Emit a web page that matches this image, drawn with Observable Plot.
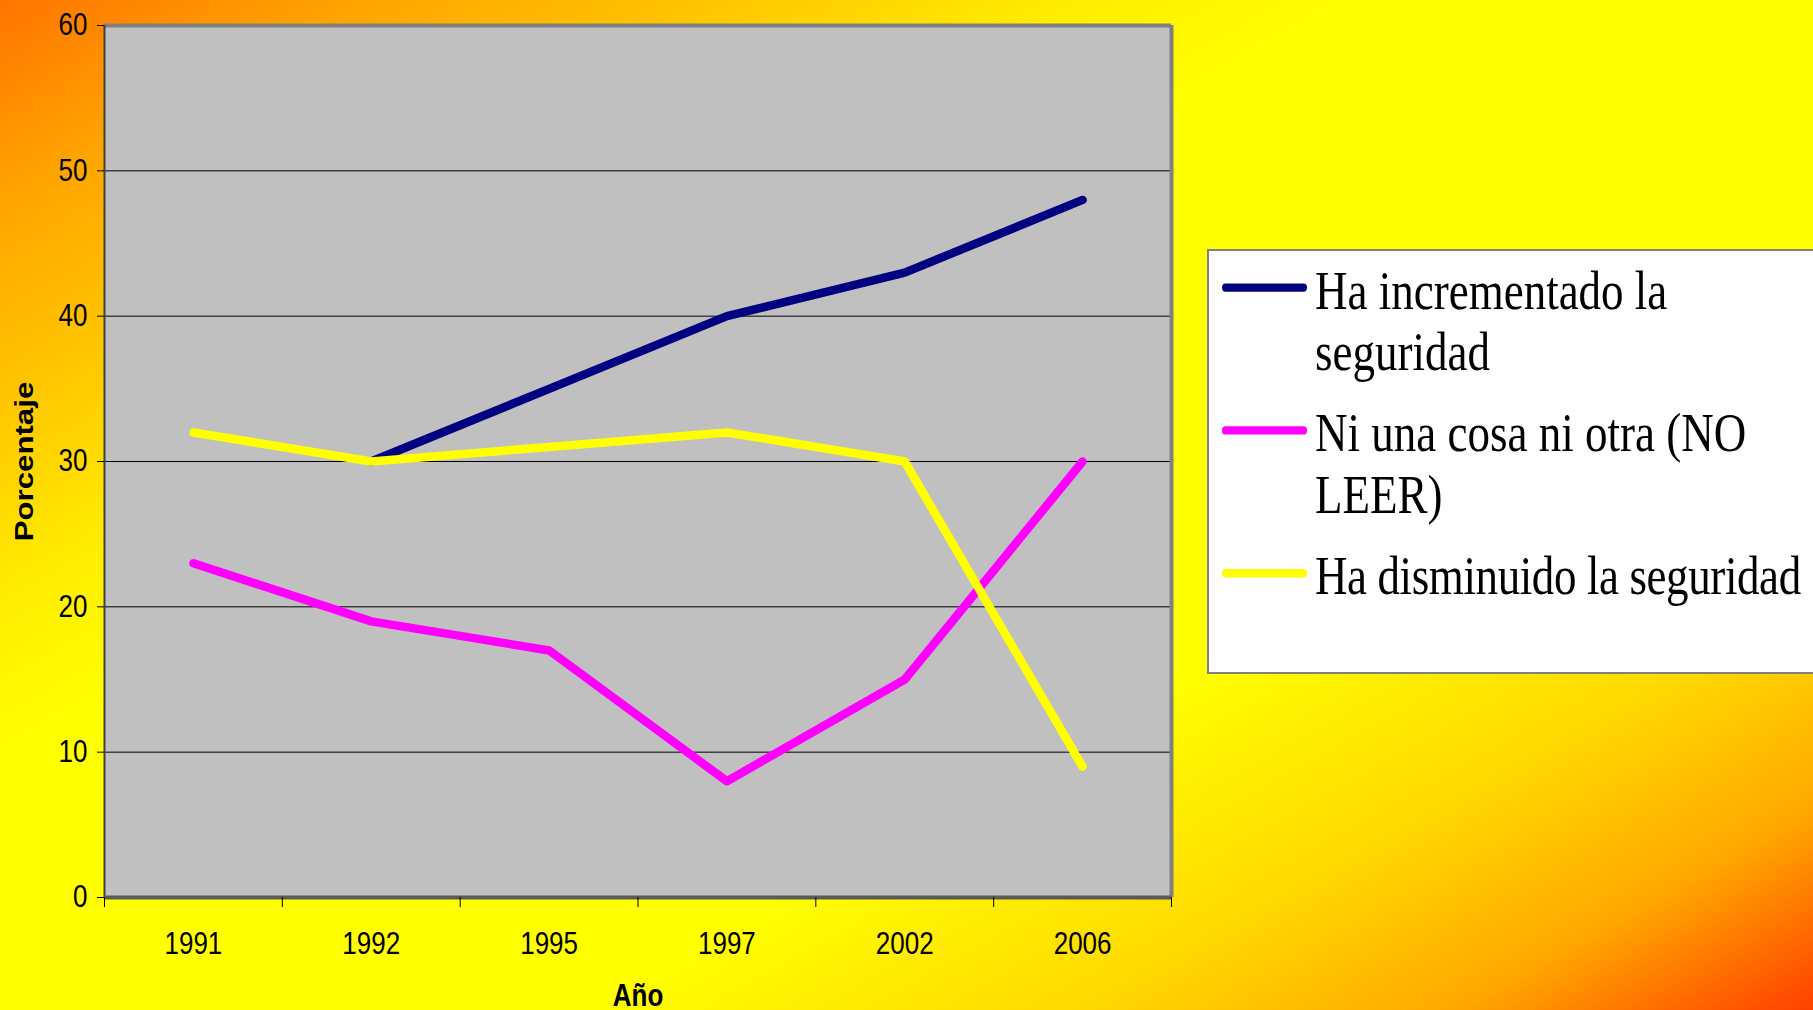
<!DOCTYPE html>
<html><head><meta charset="utf-8">
<script src="https://cdn.jsdelivr.net/npm/d3@7"></script>
<script src="https://cdn.jsdelivr.net/npm/@observablehq/plot@0.6"></script>
<style>
html,body{margin:0;padding:0;width:1813px;height:1010px;overflow:hidden;}
body{position:relative;background:linear-gradient(to bottom right,#ff7400 0%,#ffa400 10%,#ffc600 20%,#ffee00 30%,#ffff00 38%,#ffff00 66%,#ffd800 80%,#ffa800 90%,#ff4000 100%);font-family:"Liberation Sans",Arial,sans-serif;}
#chart{position:absolute;left:0;top:0;}
#legend{position:absolute;left:1207px;top:249px;width:700px;height:425px;background:#fff;border:2px solid #808080;box-sizing:border-box;overflow:hidden;}
#legend .inner{transform:scaleY(1.2);transform-origin:0 0;padding-top:8px;display:flex;flex-direction:column;gap:17px;}
#legend .entry{display:flex;align-items:flex-start;}
#legend .sw{width:85px;height:7px;border-radius:4px;margin-left:13px;margin-right:8px;margin-top:19px;flex:none;}
#legend .tx{font-family:"Liberation Serif","Times New Roman",serif;font-size:45px;line-height:51px;width:455px;color:#000;}
</style>
</head><body>
<div id="chart"></div>
<div id="legend"><div class="inner"></div></div>
<script>
const years = ["1991","1992","1995","1997","2002","2006"];
const seriesNames = ["Ha incrementado la seguridad","Ni una cosa ni otra (NO LEER)","Ha disminuido la seguridad"];
const seriesColors = ["#000080","#ff00ff","#ffff00"];
const incrementado = [null,30,35,40,43,48];
const niUnaNiOtra = [23,19,17,8,15,30];
const disminuido = [32,30,31,32,30,9];
const yTicks = [0,10,20,30,40,50,60];
const yLabel = "Porcentaje";
const xLabel = "Año";

const seriesValues = [incrementado, niUnaNiOtra, disminuido];
const rows = [];
seriesValues.forEach((vals, s) => vals.forEach((v, i) => {
  if (v != null) rows.push({series: seriesNames[s], i, value: v});
}));

const n = years.length;
const plot = Plot.plot({
  width: 1813, height: 1010,
  marginLeft: 104, marginRight: 642, marginTop: 25, marginBottom: 113,
  style: {background: "transparent", fontFamily: '"Liberation Sans", Arial, sans-serif', fontSize: "26px", color: "#000", overflow: "visible"},
  x: {domain: [-0.5, n - 0.5]},
  y: {domain: [0, 60]},
  color: {domain: seriesNames, range: seriesColors},
  marks: [
    Plot.frame({fill: "#c0c0c0"}),
    Plot.gridY(yTicks.slice(1, -1), {stroke: "#000", strokeOpacity: 1, strokeWidth: 1}),
    Plot.ruleY([60], {stroke: "#808080", strokeWidth: 4}),
    Plot.ruleX([n - 0.5], {stroke: "#808080", strokeWidth: 4}),
    Plot.ruleX([-0.5], {stroke: "#404040", strokeWidth: 2}),
    Plot.ruleY([0], {stroke: "#5a5a5a", strokeWidth: 4}),
    Plot.axisY(yTicks, {tickSize: 7, tickPadding: 10, stroke: "#000", label: yLabel, labelAnchor: "center", labelOffset: 90, labelArrow: "none"}),
    Plot.axisX(d3.range(n), {tickSize: 0, tickPadding: 34, tickFormat: i => years[i], label: xLabel, labelAnchor: "center", labelOffset: 108, labelArrow: "none"}),
    Plot.axisX(d3.range(n + 1).map(i => i - 0.5), {tickSize: 10, stroke: "#000", tickFormat: () => "", label: null}),
    Plot.line(rows, {x: "i", y: "value", z: "series", stroke: "series", strokeWidth: 8.5, strokeLinecap: "round", strokeLinejoin: "round"})
  ]
});
document.getElementById("chart").appendChild(plot);

plot.querySelectorAll('[aria-label="y-axis label"] text, [aria-label="x-axis label"] text').forEach(t => {
  t.setAttribute("font-weight", "bold");
  t.setAttribute("font-size", "26");
});
plot.querySelectorAll("text").forEach(t => {
  const tr = t.getAttribute("transform") || "";
  if (tr.includes("rotate(-90)")) t.setAttribute("transform", tr + " scale(1.2,1)");
  else t.setAttribute("transform", tr + " scale(1,1.2)");
});

const inner = document.querySelector("#legend .inner");
seriesNames.forEach((name, i) => {
  const e = document.createElement("div"); e.className = "entry";
  const sw = document.createElement("div"); sw.className = "sw"; sw.style.background = seriesColors[i];
  const tx = document.createElement("div"); tx.className = "tx"; tx.textContent = name;
  if (i === seriesNames.length - 1) { tx.style.whiteSpace = "nowrap"; tx.style.letterSpacing = "-0.4px"; }
  e.appendChild(sw); e.appendChild(tx); inner.appendChild(e);
});
</script>
</body></html>
